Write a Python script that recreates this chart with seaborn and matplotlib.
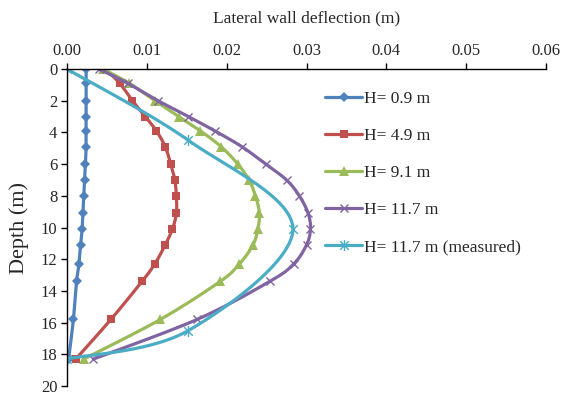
import numpy as np
import matplotlib
matplotlib.use("Agg")
import matplotlib.pyplot as plt
from matplotlib.lines import Line2D
from matplotlib.path import Path
import seaborn as sns

# depth of the computed nodes (m)
depth = [0, 0.9, 2.0, 3.0, 3.9, 4.9, 6.0, 7.0, 8.0, 9.1, 10.1, 11.1, 12.3, 13.4, 15.8, 18.3]

# lateral wall deflection (m) for each excavation stage
h_09 = [0.0024, 0.0024, 0.0024, 0.0024, 0.0024, 0.0024, 0.0023, 0.0022,
        0.0021, 0.0020, 0.0019, 0.0017, 0.0015, 0.0012, 0.0008, 0.0002]
h_49 = [0.0048, 0.0066, 0.0082, 0.0098, 0.0112, 0.0123, 0.0130, 0.0135,
        0.0137, 0.0137, 0.0132, 0.0123, 0.0110, 0.0094, 0.0055, 0.0011]
h_91 = [0.0045, 0.0078, 0.0110, 0.0140, 0.0167, 0.0193, 0.0214, 0.0228,
        0.0236, 0.0241, 0.0239, 0.0233, 0.0216, 0.0192, 0.0117, 0.0021]
h_117 = [0.0040, 0.0076, 0.0114, 0.0152, 0.0185, 0.0219, 0.0249, 0.0275,
         0.0291, 0.0302, 0.0305, 0.0300, 0.0284, 0.0254, 0.0163, 0.0033]

# measured profile
depth_meas = [0, 4.5, 10.1, 16.5, 18.3]
h_meas = [0.0, 0.0152, 0.0283, 0.0152, 0.0]

labels = ["H= 0.9 m", "H= 4.9 m", "H= 9.1 m", "H= 11.7 m", "H= 11.7 m (measured)"]
colors = ["#4F81BD", "#C0504D", "#9BBB59", "#8064A2", "#4BACC6"]

# Excel style asterisk marker: x with a vertical bar
star = Path([(-1, -1), (1, 1), (-1, 1), (1, -1), (0, -1.3), (0, 1.3)],
            [Path.MOVETO, Path.LINETO, Path.MOVETO, Path.LINETO, Path.MOVETO, Path.LINETO])
styles = [
    dict(marker="D", ms=5, mew=0),
    dict(marker="s", ms=5.5, mew=0),
    dict(marker="^", ms=6.5, mew=0),
    dict(marker="x", ms=5.5, mew=1.0),
    dict(marker=star, ms=8, mew=1.0),
]


def smooth(xs, ys, n=30):
    # catmull-rom like bezier through the points (Excel "smoothed line")
    p = np.column_stack([xs, ys]).astype(float)
    p = np.vstack([p[0], p, p[-1]])
    out = []
    t = np.linspace(0, 1, n)[:, None]
    for i in range(1, len(p) - 2):
        p0, p3 = p[i], p[i + 1]
        c1 = p0 + (p[i + 1] - p[i - 1]) / 6
        c2 = p3 - (p[i + 2] - p[i]) / 6
        seg = ((1 - t) ** 3) * p0 + 3 * ((1 - t) ** 2) * t * c1 + 3 * (1 - t) * t ** 2 * c2 + t ** 3 * p3
        out.append(seg if i == 1 else seg[1:])
    out = np.vstack(out)
    return out[:, 0], out[:, 1]


sns.set_theme(style="white")
plt.rcParams["font.family"] = ["Liberation Serif", "DejaVu Serif"]

fig = plt.figure(figsize=(5.64, 3.96), dpi=100)
ax = fig.add_axes([67 / 564, 1 - 386 / 396, 479 / 564, 317 / 396])

series = [(h_09, depth), (h_49, depth), (h_91, depth), (h_117, depth), (h_meas, depth_meas)]
handles = []
for (xs, ys), col, st, lab in zip(series, colors, styles, labels):
    sx, sy = smooth(xs, ys)
    sns.lineplot(x=sx, y=sy, sort=False, estimator=None, color=col, lw=2.3, ax=ax)
    ax.plot(xs, ys, ls="none", color=col, mec=col, mfc=col, **st)
    handles.append(Line2D([], [], color=col, lw=2.3, mec=col, mfc=col, **st))

ax.set_xlim(0, 0.06)
ax.set_ylim(20, 0)
ax.set_xticks(np.arange(0, 0.061, 0.01))
ax.set_xticklabels([f"{v:.2f}" for v in np.arange(0, 0.061, 0.01)])
ax.set_yticks(range(0, 21, 2))
ax.xaxis.tick_top()
ax.xaxis.set_label_position("top")
ax.set_xlabel("Lateral wall deflection (m)", fontsize=12.5, labelpad=15)
ax.set_ylabel("Depth (m)", fontsize=16, labelpad=8)
ax.tick_params(axis="both", labelsize=12, length=4, width=1, color="black",
               direction="out", pad=3)
ax.tick_params(axis="x", top=True, bottom=False)
ax.tick_params(axis="y", left=True)
for side in ["right", "bottom"]:
    ax.spines[side].set_visible(False)
for side in ["left", "top"]:
    ax.spines[side].set_color("black")
    ax.spines[side].set_linewidth(1)

ax.legend(handles, labels, loc="upper left", bbox_to_anchor=(0.5386, 0.93),
          frameon=False, fontsize=12.5, handlelength=2.15, handletextpad=0.1,
          labelspacing=1.2, borderpad=0, borderaxespad=0)

fig.savefig("out.png", dpi=100)
